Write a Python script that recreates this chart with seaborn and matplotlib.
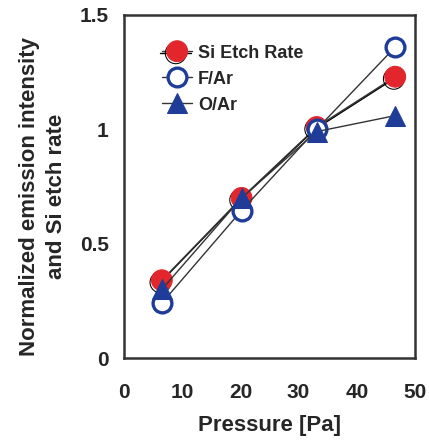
import matplotlib
matplotlib.use("Agg")
import matplotlib.pyplot as plt
import matplotlib.patheffects as pe
import seaborn as sns
import pandas as pd

pressure = [6.5, 20.2, 33.1, 46.6]
si_etch_rate = [0.34, 0.70, 1.01, 1.23]
f_ar = [0.24, 0.645, 1.00, 1.36]
o_ar = [0.30, 0.70, 0.99, 1.06]

x_ticks = [0, 10, 20, 30, 40, 50]
y_ticks = [0, 0.5, 1, 1.5]
y_tick_labels = ["0", "0.5", "1", "1.5"]

sns.set_style("white")
plt.rcParams["font.family"] = ["Liberation Sans", "DejaVu Sans"]
plt.rcParams["font.weight"] = "bold"

red = "#e3262b"
blue = "#1f3c98"
line_col = "#333333"

fig = plt.figure(figsize=(4.29, 4.41), dpi=100)
ax = fig.add_axes([124 / 429, 1 - 358 / 441, 291 / 429, 343 / 441])

series = [
    ("Si Etch Rate", si_etch_rate, dict(marker="o", markerfacecolor=red,
                                         markeredgecolor=red, markersize=15)),
    ("F/Ar", f_ar, dict(marker="o", markerfacecolor="white",
                        markeredgecolor=blue, markeredgewidth=2.4, markersize=13.5)),
    ("O/Ar", o_ar, dict(marker="^", markerfacecolor=blue,
                        markeredgecolor=blue, markersize=15)),
]

for label, vals, style in series:
    df = pd.DataFrame({"Pressure": pressure, "Value": vals})
    sns.lineplot(data=df, x="Pressure", y="Value", ax=ax, label=label,
                 color=line_col, linewidth=1.0, **style)

# dark drop shadow under the red etch-rate markers
ax.lines[0].set_path_effects([
    pe.SimpleLineShadow(offset=(-1, -1.5), shadow_color="black", alpha=1.0),
    pe.Normal(),
])

ax.set_xlim(0, 50)
ax.set_ylim(0, 1.5)
ax.set_xticks(x_ticks)
ax.set_yticks(y_ticks)
ax.set_yticklabels(y_tick_labels)
ax.tick_params(axis="both", direction="in", length=5, width=1, color="#555555",
               labelsize=15)
ax.tick_params(axis="x", pad=18)
ax.tick_params(axis="y", pad=11)
for lab in ax.get_xticklabels() + ax.get_yticklabels():
    lab.set_fontweight("bold")

for s in ax.spines.values():
    s.set_color("#333333")
    s.set_linewidth(1.8)

ax.set_xlabel("Pressure [Pa]", fontsize=16, fontweight="bold", labelpad=9)
ax.set_ylabel("Normalized emission intensity\nand Si etch rate", fontsize=16,
              fontweight="bold", linespacing=1.4)
ax.yaxis.set_label_coords(-0.195, 0.47)

leg = ax.legend(loc="upper left", bbox_to_anchor=(0.105, 0.935), frameon=False,
                fontsize=13, handlelength=1.7, handletextpad=0.3,
                labelspacing=0.5, borderaxespad=0)
for t in leg.get_texts():
    t.set_fontweight("bold")

fig.savefig("out.png", dpi=100)
